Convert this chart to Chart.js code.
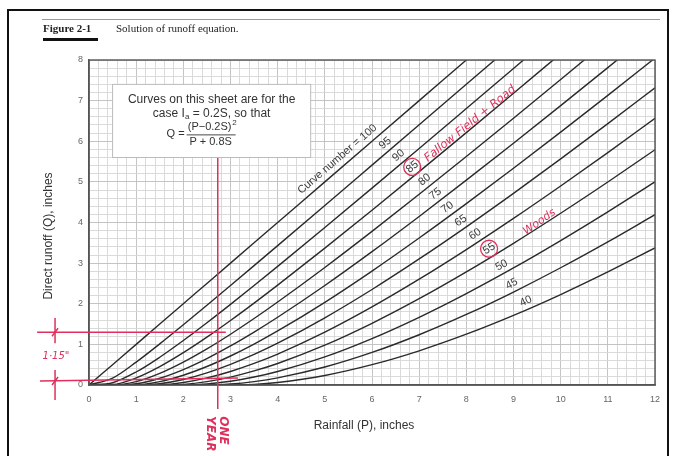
<!DOCTYPE html>
<html>
<head>
<meta charset="utf-8">
<script src="https://cdn.jsdelivr.net/npm/chart.js@4.4.0/dist/chart.umd.min.js"></script>
<style>
  html, body { margin: 0; padding: 0; background: #fff; }
  #wrap { width: 674px; height: 456px; position: relative; }
</style>
</head>
<body>
<div id="wrap"><canvas id="runoffChart"></canvas></div>
<script>
// rainfall P (inches) on the x axis, runoff Q (inches)
const rainfall = [0, 0.5, 1, 1.5, 2, 2.5, 3, 3.5, 4, 5, 6, 7, 8, 9, 10, 11, 12];

const runoff100 = [0, 0.5, 1, 1.5, 2, 2.5, 3, 3.5, 4, 5, 6, 7, 8, 9, null, null, null];
const runoff95 = [0, 0.169, 0.563, 1.013, 1.483, 1.963, 2.449, 2.939, 3.431, 4.419, 5.412, 6.406, 7.401, 8.398, null, null, null];
const runoff90 = [0, 0.056, 0.320, 0.683, 1.094, 1.531, 1.984, 2.448, 2.919, 3.876, 4.846, 5.823, 6.806, 7.791, 8.780, null, null];
const runoff85 = [0, 0.011, 0.174, 0.452, 0.795, 1.178, 1.588, 2.016, 2.458, 3.368, 4.303, 5.253, 6.213, 7.181, 8.155, null, null];
const runoff80 = [0, 0, 0.083, 0.286, 0.563, 0.889, 1.250, 1.636, 2.042, 2.893, 3.781, 4.694, 5.625, 6.568, 7.521, 8.481, null];
const runoff75 = [0, 0, 0.030, 0.167, 0.381, 0.651, 0.961, 1.302, 1.667, 2.449, 3.282, 4.149, 5.042, 5.952, 6.877, 7.813, 8.758];
const runoff70 = [0, 0, 0.005, 0.084, 0.241, 0.455, 0.714, 1.008, 1.330, 2.036, 2.805, 3.618, 4.464, 5.335, 6.225, 7.130, 8.048];
const runoff65 = [0, 0, 0, 0.031, 0.135, 0.297, 0.506, 0.752, 1.028, 1.654, 2.351, 3.103, 3.894, 4.717, 5.565, 6.433, 7.316];
const runoff60 = [0, 0, 0, 0.004, 0.061, 0.174, 0.333, 0.531, 0.762, 1.301, 1.922, 2.604, 3.333, 4.101, 4.899, 5.721, 6.564];
const runoff55 = [0, 0, 0, 0, 0.015, 0.082, 0.195, 0.346, 0.530, 0.980, 1.518, 2.124, 2.784, 3.488, 4.228, 4.997, 5.791];
const runoff50 = [0, 0, 0, 0, 0, 0.024, 0.091, 0.196, 0.333, 0.692, 1.143, 1.667, 2.250, 2.882, 3.556, 4.263, 5.000];
const runoff45 = [0, 0, 0, 0, 0, 0, 0.024, 0.084, 0.176, 0.442, 0.801, 1.237, 1.736, 2.289, 2.886, 3.523, 4.193];
const runoff40 = [0, 0, 0, 0, 0, 0, 0, 0.016, 0.063, 0.235, 0.500, 0.842, 1.250, 1.714, 2.227, 2.783, 3.375];

const curveNumbers = [100, 95, 90, 85, 80, 75, 70, 65, 60, 55, 50, 45, 40];
const curveRunoff = [runoff100, runoff95, runoff90, runoff85, runoff80, runoff75, runoff70,
  runoff65, runoff60, runoff55, runoff50, runoff45, runoff40];
// rainfall at which each curve's label sits
const labelRain = [5.39, 6.39, 6.67, 6.96, 7.22, 7.45, 7.70, 7.98, 8.28, 8.57, 8.83, 9.04, 9.33];
const labelText = curveNumbers.map((cn, i) => i === 0 ? 'Curve number = ' + cn : String(cn));

const RED = '#df2f5b';
const INK = '#333';
const SANS = "'Liberation Sans', Arial, sans-serif";
const HAND = "'DejaVu Sans', sans-serif";

const isWhole = v => Math.abs(v - Math.round(v)) < 1e-6;

// point on curve i at rainfall p, in pixels, with the local direction
function onCurve(chart, i, p) {
  const xs = chart.scales.x, ys = chart.scales.y;
  const q = curveRunoff[i];
  let k = 0;
  while (k < rainfall.length - 2 && rainfall[k + 1] < p) k++;
  const t = (p - rainfall[k]) / (rainfall[k + 1] - rainfall[k]);
  const qv = q[k] + t * (q[k + 1] - q[k]);
  const x0 = xs.getPixelForValue(rainfall[k]), y0 = ys.getPixelForValue(q[k]);
  const x1 = xs.getPixelForValue(rainfall[k + 1]), y1 = ys.getPixelForValue(q[k + 1]);
  return { x: xs.getPixelForValue(p), y: ys.getPixelForValue(qv), angle: Math.atan2(y1 - y0, x1 - x0) };
}

function line(ctx, pts) {
  ctx.beginPath();
  ctx.moveTo(pts[0][0], pts[0][1]);
  for (let i = 1; i < pts.length; i++) ctx.lineTo(pts[i][0], pts[i][1]);
  ctx.stroke();
}

function rotText(ctx, text, x, y, angle, font, color) {
  ctx.save();
  ctx.translate(x, y);
  ctx.rotate(angle);
  ctx.font = font;
  ctx.fillStyle = color;
  ctx.textAlign = 'center';
  ctx.textBaseline = 'middle';
  ctx.fillText(text, 0, 0);
  ctx.restore();
}

const figurePlugin = {
  id: 'figure',
  afterDatasetsDraw(chart) {
    const ctx = chart.ctx;
    const a = chart.chartArea;
    const X = v => chart.scales.x.getPixelForValue(v);
    const Y = v => chart.scales.y.getPixelForValue(v);

    // plot frame
    ctx.save();
    ctx.strokeStyle = '#555';
    ctx.lineWidth = 1.4;
    ctx.strokeRect(a.left, a.top, a.right - a.left, a.bottom - a.top);

    // page frame and heading
    ctx.strokeStyle = '#111';
    ctx.lineWidth = 2;
    line(ctx, [[8, 456], [8, 10], [668, 10], [668, 456]]);
    ctx.strokeStyle = '#9a9a9a';
    ctx.lineWidth = 1;
    line(ctx, [[42, 19.5], [660, 19.5]]);
    ctx.fillStyle = '#222';
    ctx.textBaseline = 'alphabetic';
    ctx.textAlign = 'left';
    ctx.font = "bold 11px 'Liberation Serif', serif";
    ctx.fillText('Figure 2-1', 43, 32);
    ctx.font = "11px 'Liberation Serif', serif";
    ctx.fillText('Solution of runoff equation.', 116, 32);
    ctx.fillStyle = '#111';
    ctx.fillRect(43, 38, 55, 3);

    // axis titles
    ctx.fillStyle = INK;
    ctx.font = '12px ' + SANS;
    ctx.textAlign = 'center';
    ctx.textBaseline = 'middle';
    ctx.fillText('Rainfall (P), inches', 364, 426);
    rotText(ctx, 'Direct runoff (Q), inches', 49, 236, -Math.PI / 2, '12px ' + SANS, INK);

    // curve labels
    const labelPos = [];
    labelText.forEach((txt, i) => {
      const pt = onCurve(chart, i, labelRain[i]);
      const off = i === 0 ? 9 : 8;
      const cx = pt.x + Math.sin(pt.angle) * off;
      const cy = pt.y - Math.cos(pt.angle) * off;
      labelPos.push({ x: cx, y: cy, angle: pt.angle });
      rotText(ctx, txt, cx, cy, pt.angle, '11px ' + SANS, '#3c3c3c');
    });

    // note box
    const bx0 = X(0.5), bx1 = X(4.7), by0 = Y(7.4), by1 = Y(5.6);
    ctx.fillStyle = '#fff';
    ctx.fillRect(bx0, by0, bx1 - bx0, by1 - by0);
    ctx.strokeStyle = '#bbb';
    ctx.lineWidth = 1;
    ctx.strokeRect(bx0, by0, bx1 - bx0, by1 - by0);
    const bc = (bx0 + bx1) / 2;
    ctx.fillStyle = INK;
    ctx.textBaseline = 'middle';
    ctx.textAlign = 'center';
    ctx.font = '12px ' + SANS;
    ctx.fillText('Curves on this sheet are for the', bc, by0 + 15);
    // "case Ia = 0.2S, so that" with subscript
    const p1 = 'case I', p2 = 'a', p3 = ' = 0.2S, so that';
    const w1 = ctx.measureText(p1).width, w3 = ctx.measureText(p3).width;
    ctx.font = '8px ' + SANS;
    const w2 = ctx.measureText(p2).width;
    let sx = bc - (w1 + w2 + w3) / 2;
    ctx.textAlign = 'left';
    ctx.font = '12px ' + SANS;
    ctx.fillText(p1, sx, by0 + 29);
    ctx.font = '8px ' + SANS;
    ctx.fillText(p2, sx + w1, by0 + 32);
    ctx.font = '12px ' + SANS;
    ctx.fillText(p3, sx + w1 + w2, by0 + 29);
    // formula
    ctx.font = '11px ' + SANS;
    ctx.textAlign = 'right';
    ctx.fillText('Q =', bc - 27, by0 + 50);
    ctx.textAlign = 'center';
    ctx.fillText('(P\u22120.2S)', bc - 2, by0 + 43);
    const nw = ctx.measureText('(P\u22120.2S)').width;
    ctx.font = '8px ' + SANS;
    ctx.fillText('2', bc - 2 + nw / 2 + 3, by0 + 38);
    ctx.font = '11px ' + SANS;
    ctx.fillText('P + 0.8S', bc - 1, by0 + 58);
    ctx.strokeStyle = INK;
    ctx.lineWidth = 0.9;
    line(ctx, [[bc - 25, by0 + 50.5], [bc + 24, by0 + 50.5]]);

    // red hand annotations
    ctx.strokeStyle = RED;
    ctx.lineWidth = 1.5;
    line(ctx, [[X(2.73), Y(5.59)], [X(2.73), Y(-0.59)]]);
    line(ctx, [[X(-1.10), Y(1.30)], [X(2.90), Y(1.30)]]);
    line(ctx, [[X(-1.04), Y(0.10)], [X(3.16), Y(0.17)]]);
    line(ctx, [[X(-0.72), Y(1.65)], [X(-0.72), Y(1.03)]]);
    line(ctx, [[X(-0.72), Y(0.37)], [X(-0.72), Y(-0.37)]]);
    [[-0.72, 1.30], [-0.72, 0.10]].forEach(([p, q]) => {
      line(ctx, [[X(p) - 3, Y(q) + 4], [X(p) + 3, Y(q) - 4]]);
    });
    ctx.lineWidth = 1.3;
    [3, 9].forEach(i => {
      ctx.beginPath();
      ctx.arc(labelPos[i].x, labelPos[i].y, 8.5, 0, Math.PI * 2);
      ctx.stroke();
    });
    rotText(ctx, '1\u00b715"', X(-0.70), Y(0.71), 0, 'italic 10px ' + HAND, RED);
    rotText(ctx, 'ONE', X(2.84), Y(-1.12), Math.PI / 2, 'italic bold 12px ' + HAND, RED);
    rotText(ctx, 'YEAR', X(2.56), Y(-1.20), Math.PI / 2, 'italic bold 12px ' + HAND, RED);
    rotText(ctx, 'Fallow Field + Road', X(8.08), Y(6.43), -39 * Math.PI / 180, 'italic 11.5px ' + HAND, RED);
    rotText(ctx, 'Woods', X(9.55), Y(4.01), -35 * Math.PI / 180, 'italic 11px ' + HAND, RED);
    ctx.restore();
  }
};

new Chart(document.getElementById('runoffChart'), {
  type: 'line',
  data: {
    datasets: curveNumbers.map((cn, i) => ({
      label: 'CN ' + cn,
      data: rainfall.map((p, k) => ({ x: p, y: curveRunoff[i][k] })),
      borderColor: '#2a2a2a',
      borderWidth: 1.4,
      pointRadius: 0,
      fill: false,
      cubicInterpolationMode: 'monotone',
      spanGaps: false
    }))
  },
  options: {
    responsive: true,
    maintainAspectRatio: false,
    animation: false,
    layout: { padding: { left: 29, top: 60, right: 19, bottom: 15 } },
    plugins: { legend: { display: false }, tooltip: { enabled: false } },
    scales: {
      x: {
        type: 'linear',
        min: 0,
        max: 12,
        afterFit: s => { s.height = 56; },
        grid: { color: c => isWhole(c.tick.value) ? '#bdbdbd' : '#d6d6d6', lineWidth: 0.9, drawTicks: false },
        border: { display: true, color: '#555', width: 1.4 },
        ticks: {
          stepSize: 0.2, autoSkip: false, maxRotation: 0, padding: 9, color: '#666',
          font: { size: 9, family: SANS },
          callback: v => isWhole(v) ? Math.round(v) : ''
        }
      },
      y: {
        type: 'linear',
        min: 0,
        max: 8,
        afterFit: s => { s.width = 60; },
        grid: { color: c => isWhole(c.tick.value) ? '#bdbdbd' : '#d6d6d6', lineWidth: 0.9, drawTicks: false },
        border: { display: true, color: '#555', width: 1.4 },
        ticks: {
          stepSize: 0.2, autoSkip: false, padding: 6, color: '#666',
          font: { size: 9, family: SANS },
          callback: v => isWhole(v) ? Math.round(v) : ''
        }
      }
    }
  },
  plugins: [figurePlugin]
});
</script>
</body>
</html>
